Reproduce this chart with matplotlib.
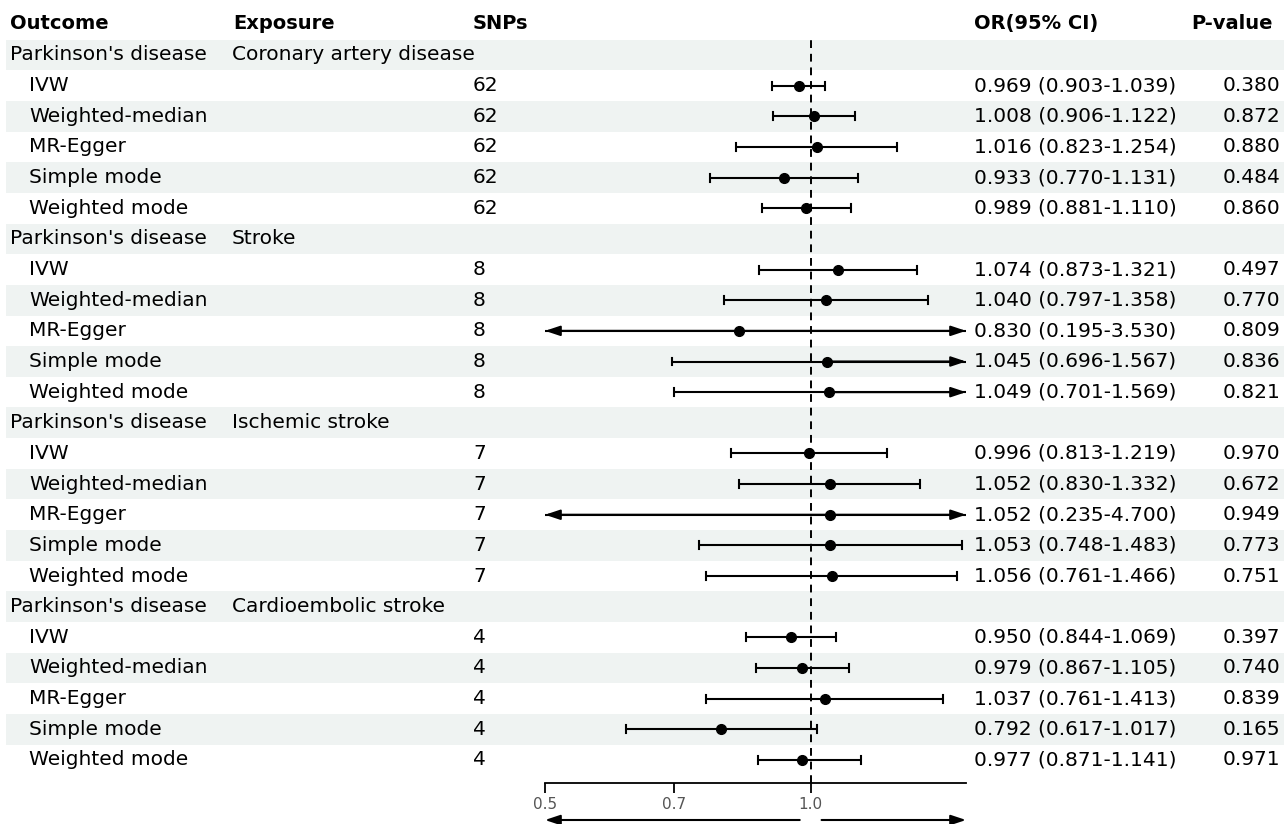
import numpy as np
import matplotlib
matplotlib.use("Agg")
import matplotlib.pyplot as plt

# exposures and instrument counts
outcome = "Parkinson's disease"
exposures = ["Coronary artery disease", "Stroke", "Ischemic stroke", "Cardioembolic stroke"]
n_snps = [62, 8, 7, 4]
methods = ["IVW", "Weighted-median", "MR-Egger", "Simple mode", "Weighted mode"]

# odds ratios with 95% CI, one row per exposure
or_est = [[0.969, 1.008, 1.016, 0.933, 0.989],
          [1.074, 1.040, 0.830, 1.045, 1.049],
          [0.996, 1.052, 1.052, 1.053, 1.056],
          [0.950, 0.979, 1.037, 0.792, 0.977]]
or_lo = [[0.903, 0.906, 0.823, 0.770, 0.881],
         [0.873, 0.797, 0.195, 0.696, 0.701],
         [0.813, 0.830, 0.235, 0.748, 0.761],
         [0.844, 0.867, 0.761, 0.617, 0.871]]
or_hi = [[1.039, 1.122, 1.254, 1.131, 1.110],
         [1.321, 1.358, 3.530, 1.567, 1.569],
         [1.219, 1.332, 4.700, 1.483, 1.466],
         [1.069, 1.105, 1.413, 1.017, 1.141]]
pvals = [[0.380, 0.872, 0.880, 0.484, 0.860],
         [0.497, 0.770, 0.809, 0.836, 0.821],
         [0.970, 0.672, 0.949, 0.773, 0.751],
         [0.397, 0.740, 0.839, 0.165, 0.971]]

xlim = (0.5, 1.5)
xticks = [0.5, 0.7, 1.0]
xticklabels = ["0.5", "0.7", "1.0"]

W, H = 1284, 824
row0, row_h = 55, 30.65          # pixel centre of first row, row height
plot_left, plot_right = 545, 966
plot_top, plot_bottom = 35, 783

def row_of(py):
    return (py - row0) / row_h

fs = 14.5
plt.rcParams['font.family'] = ['DejaVu Sans']
fig = plt.figure(figsize=(W / 100, H / 100), dpi=100)

# background / table layer
bg = fig.add_axes([0, 0, 1, 1])
bg.set_xlim(0, W)
bg.set_ylim(row_of(H), row_of(0))
bg.axis('off')

n_rows = len(exposures) * (len(methods) + 1)
for i in range(0, n_rows, 2):
    bg.axhspan(i - 0.5, i + 0.5, xmin=6 / W, xmax=1, color='#eff3f2', lw=0, zorder=0)

hy = row_of(24)
for x, t, ha in [(10, "Outcome", 'left'), (233, "Exposure", 'left'), (473, "SNPs", 'left'),
                 (974, "OR(95% CI)", 'left'), (1273, "P-value", 'right')]:
    bg.text(x, hy, t, ha=ha, va='center', fontsize=14, fontweight='bold')

# forest layer
ax = fig.add_axes([plot_left / W, 1 - plot_bottom / H,
                   (plot_right - plot_left) / W, (plot_bottom - plot_top) / H])
ax.set_xscale('log')
ax.set_xlim(*xlim)
ax.set_ylim(row_of(plot_bottom), row_of(plot_top))
ax.patch.set_alpha(0)
for s in ['top', 'left', 'right']:
    ax.spines[s].set_visible(False)
ax.spines['bottom'].set_linewidth(1.3)
ax.set_yticks([])
ax.set_xticks(xticks)
ax.set_xticklabels(xticklabels)
ax.minorticks_off()
ax.tick_params(axis='x', direction='out', length=7, width=1.3, labelsize=11,
               labelcolor='#555555', pad=3)
ax.axvline(1.0, color='black', lw=1.4, ls=(0, (4, 3)), zorder=1)

head = '-|>,head_length=0.9,head_width=0.3'
r = 0
for g, expo in enumerate(exposures):
    bg.text(10, r, outcome, ha='left', va='center', fontsize=fs)
    bg.text(232, r, expo, ha='left', va='center', fontsize=fs)
    r += 1
    for m, meth in enumerate(methods):
        est, lo, hi = or_est[g][m], or_lo[g][m], or_hi[g][m]
        bg.text(29, r, meth, ha='left', va='center', fontsize=fs)
        bg.text(473, r, str(n_snps[g]), ha='left', va='center', fontsize=fs)
        bg.text(974, r, f"{est:.3f} ({lo:.3f}-{hi:.3f})", ha='left', va='center', fontsize=fs)
        bg.text(1280, r, f"{pvals[g][m]:.3f}", ha='right', va='center', fontsize=fs)

        lo_c, hi_c = max(lo, xlim[0]), min(hi, xlim[1])
        ax.plot([lo_c, hi_c], [r, r], color='black', lw=1.5, zorder=2,
                solid_capstyle='butt')
        for end, clipped in [(lo_c, lo < xlim[0]), (hi_c, hi > xlim[1])]:
            if clipped:
                ax.annotate('', xy=(end, r), xytext=(est, r),
                            arrowprops=dict(arrowstyle=head, color='black', lw=1.5,
                                            shrinkA=0, shrinkB=0), zorder=3)
            else:
                ax.plot([end, end], [r - 0.13, r + 0.13], color='black', lw=1.5, zorder=2)
        ax.plot(est, r, 'o', color='black', ms=7, zorder=4)
        r += 1

# direction arrows under the axis
ay = -(820 - plot_bottom) / (plot_bottom - plot_top)
for x0, x1 in [(0.972, xlim[0]), (1.029, xlim[1])]:
    ax.annotate('', xy=(x1, ay), xytext=(x0, ay),
                xycoords=('data', 'axes fraction'), textcoords=('data', 'axes fraction'),
                arrowprops=dict(arrowstyle=head, color='black', lw=1.5,
                                shrinkA=0, shrinkB=0), annotation_clip=False)

fig.savefig("out.png", dpi=100)
